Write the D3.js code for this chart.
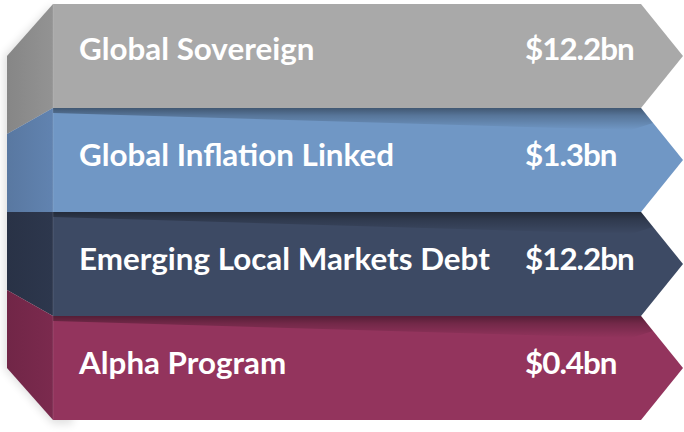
<!DOCTYPE html>
<html>
<head>
<meta charset="utf-8">
<script src="https://cdn.jsdelivr.net/npm/d3@7"></script>
<style>
  html, body { margin: 0; padding: 0; background: #fff; }
  svg { display: block; }
  .label, .value { font-family: Lato, "Open Sans", sans-serif; font-weight: 700; fill: #fff; }
</style>
</head>
<body>
<svg class="chart" width="684" height="432"></svg>
<script>
// chart data
const categories = ['Global Sovereign', 'Global Inflation Linked', 'Emerging Local Markets Debt', 'Alpha Program'];
const values = [12.2, 1.3, 12.2, 0.4];
const frontColors = ['#a9a9a9', '#7097c5', '#3d4a64', '#93345d'];
const sideColors = ['#939393', '#6183b0', '#2d374d', '#7b2a4e'];

// layout
const W = 684, H = 432;
const geo = { top: 4, bottom: 420, frontX: 53, sideX: 7, bodyEnd: 641, tipX: 683, persp: 0.75 };
const cy = (geo.top + geo.bottom) / 2;

const y = d3.scaleBand().domain(categories).range([geo.top, geo.bottom]).padding(0);
const sideY = v => cy + (v - cy) * geo.persp;
const fmt = v => '$' + d3.format('.1f')(v) + 'bn';

const svg = d3.select('.chart');
const defs = svg.append('defs');

// soft shadow behind the box
defs.append('filter').attr('id', 'blur').attr('x', '-20%').attr('y', '-20%').attr('width', '140%').attr('height', '140%')
  .append('feGaussianBlur').attr('stdDeviation', 4);

// side gradients (darker toward the back edge)
categories.forEach((c, i) => {
  const g = defs.append('linearGradient').attr('id', 'side' + i).attr('x1', 0).attr('x2', 1).attr('y1', 0).attr('y2', 0);
  g.append('stop').attr('offset', 0).attr('stop-color', d3.color(sideColors[i]).darker(0.25));
  g.append('stop').attr('offset', 1).attr('stop-color', sideColors[i]);
});

const shade = defs.append('linearGradient').attr('id', 'shade').attr('x1', 0).attr('x2', 0).attr('y1', 0).attr('y2', 1);
shade.append('stop').attr('offset', 0).attr('stop-color', '#000').attr('stop-opacity', 0.42);
shade.append('stop').attr('offset', 0.35).attr('stop-color', '#000').attr('stop-opacity', 0.22);
shade.append('stop').attr('offset', 1).attr('stop-color', '#000').attr('stop-opacity', 0);

// drop shadow of the whole left side
svg.append('path')
  .attr('d', d3.line()([[geo.frontX, geo.top], [geo.sideX - 3, sideY(geo.top)], [geo.sideX - 3, sideY(geo.bottom)], [geo.frontX, geo.bottom + 4], [geo.frontX + 20, geo.bottom + 4]]) + 'Z')
  .attr('fill', '#000').attr('opacity', 0.12).attr('filter', 'url(#blur)');

const rows = svg.append('g').attr('class', 'rows')
  .selectAll('g').data(categories).join('g').attr('class', 'row');

// side faces
rows.append('path')
  .attr('fill', (d, i) => 'url(#side' + i + ')')
  .attr('d', d => {
    const y0 = y(d), y1 = y(d) + y.bandwidth();
    return d3.line()([[geo.frontX, y0], [geo.sideX, sideY(y0)], [geo.sideX, sideY(y1)], [geo.frontX, y1]]) + 'Z';
  });

// front arrow faces
rows.append('path')
  .attr('fill', (d, i) => frontColors[i])
  .attr('d', d => {
    const y0 = y(d), y1 = y(d) + y.bandwidth(), ym = (y0 + y1) / 2;
    return d3.line()([[geo.frontX, y0], [geo.bodyEnd, y0], [geo.tipX, ym], [geo.bodyEnd, y1], [geo.frontX, y1]]) + 'Z';
  });

// shadow cast by the panel above (thin at left, wider toward the tip)
rows.filter((d, i) => i > 0).append('path')
  .attr('fill', 'url(#shade)')
  .attr('d', d => {
    const y0 = y(d);
    return d3.line()([[geo.frontX, y0], [geo.bodyEnd, y0], [geo.bodyEnd + 12, y0 + 15], [geo.bodyEnd - 10, y0 + 22], [geo.frontX, y0 + 5]]) + 'Z';
  });

// faint edge between side and front
svg.append('line')
  .attr('x1', geo.frontX).attr('x2', geo.frontX).attr('y1', geo.top).attr('y2', geo.bottom)
  .attr('stroke', '#fff').attr('stroke-opacity', 0.08).attr('stroke-width', 1.5);

// labels
const labels = rows.append('text').attr('class', 'label')
  .attr('x', 79)
  .attr('y', (d, i) => y(d) + y.bandwidth() / 2 + (i === 0 ? 4 : 6))
  .text(d => d);

// fit font size so the longest label spans the same width as the reference
labels.style('font-size', '28px');
const longest = d3.max(labels.nodes(), n => n.getComputedTextLength());
const size = 28 * 411 / longest;
labels.style('font-size', size + 'px');

rows.append('text').attr('class', 'value')
  .attr('x', 525)
  .attr('y', (d, i) => y(d) + y.bandwidth() / 2 + (i === 0 ? 4 : 6))
  .style('font-size', size + 'px')
  .style('letter-spacing', '-1px')
  .text((d, i) => fmt(values[i]));
</script>
</body>
</html>
